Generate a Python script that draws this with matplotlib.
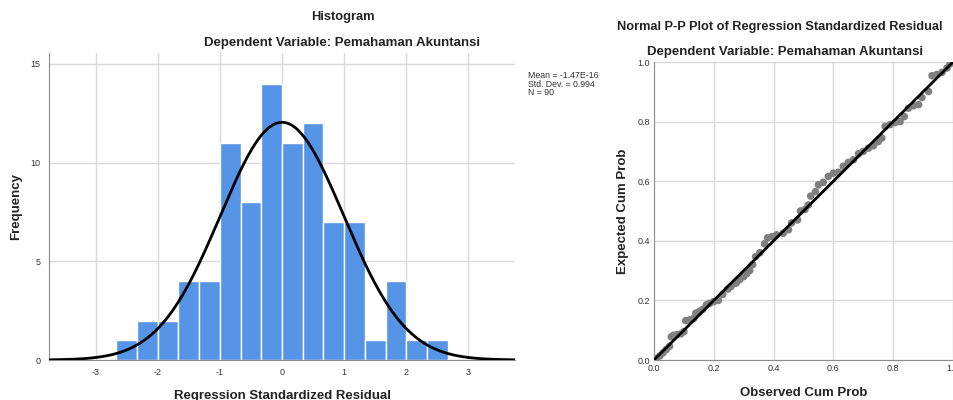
import numpy as np
import matplotlib
matplotlib.use("Agg")
from matplotlib import pyplot as plt

plt.rcParams['font.family'] = ['Liberation Sans', 'DejaVu Sans']
plt.rcParams['axes.unicode_minus'] = False

# histogram of regression standardized residuals
bin_edges = [-8/3, -7/3, -2, -5/3, -4/3, -1, -2/3, -1/3, 0, 1/3, 2/3, 1, 4/3, 5/3, 2, 7/3, 8/3]
counts = [1, 2, 2, 4, 4, 11, 8, 14, 11, 12, 7, 7, 1, 4, 1, 1]
res_mean = -1.47e-16
res_sd = 0.994
n_obs = 90
hist_xticks = [-3, -2, -1, 0, 1, 2, 3]
hist_yticks = [0, 5, 10, 15]

# normal P-P plot points
obs_cum = [0.008, 0.02, 0.03, 0.041, 0.052, 0.058, 0.066, 0.077, 0.09, 0.1,
           0.106, 0.12, 0.133, 0.14, 0.152, 0.163, 0.175, 0.186, 0.2, 0.215,
           0.23, 0.247, 0.258, 0.275, 0.287, 0.3, 0.31, 0.32, 0.33, 0.34,
           0.354, 0.37, 0.38, 0.395, 0.41, 0.432, 0.45, 0.46, 0.48, 0.49,
           0.505, 0.516, 0.524, 0.54, 0.55, 0.566, 0.583, 0.6, 0.617, 0.633,
           0.65, 0.667, 0.684, 0.7, 0.717, 0.734, 0.75, 0.762, 0.773, 0.79,
           0.807, 0.823, 0.837, 0.851, 0.868, 0.885, 0.896, 0.918, 0.93, 0.946,
           0.963, 0.98, 0.99]
exp_cum = [0.005, 0.014, 0.024, 0.035, 0.046, 0.078, 0.083, 0.085, 0.088, 0.095,
           0.132, 0.135, 0.14, 0.157, 0.163, 0.17, 0.185, 0.19, 0.196, 0.2,
           0.22, 0.238, 0.247, 0.258, 0.27, 0.28, 0.29, 0.3, 0.32, 0.347,
           0.36, 0.39, 0.41, 0.414, 0.42, 0.425, 0.437, 0.46, 0.47, 0.5,
           0.505, 0.52, 0.55, 0.565, 0.588, 0.596, 0.616, 0.627, 0.63, 0.65,
           0.663, 0.672, 0.692, 0.7, 0.711, 0.719, 0.733, 0.745, 0.784, 0.79,
           0.797, 0.8, 0.817, 0.845, 0.853, 0.857, 0.881, 0.901, 0.954, 0.958,
           0.965, 0.98, 0.994]
pp_ticks = [0.0, 0.2, 0.4, 0.6, 0.8, 1.0]

bar_color = '#5694e6'
grid_color = '#d9d9d9'
spine_color = '#8c8c8c'
text_color = '#222222'

fig = plt.figure(figsize=(9.54, 4.0), dpi=100)

# ---- histogram ----
ax1 = fig.add_axes([0.0514, 0.1, 0.4885, 0.7675])
widths = np.diff(bin_edges)
ax1.bar(bin_edges[:-1], counts, width=widths, align='edge', color=bar_color,
        edgecolor='white', linewidth=1.0, zorder=2)
xs = np.linspace(-3.75, 3.75, 400)
bw = widths[0]
curve = n_obs * bw / (res_sd * np.sqrt(2 * np.pi)) * np.exp(-0.5 * ((xs - res_mean) / res_sd) ** 2)
ax1.plot(xs, curve, color='black', linewidth=2.0, zorder=3)
ax1.set_xlim(-3.75, 3.75)
ax1.set_ylim(0, 15.55)
ax1.set_xticks(hist_xticks)
ax1.set_yticks(hist_yticks)
ax1.grid(True, color=grid_color, linewidth=1.0, zorder=0)
ax1.set_axisbelow(True)
ax1.tick_params(length=0, labelsize=6.5, colors='#333333', pad=6)
for s in ['top', 'right']:
    ax1.spines[s].set_visible(False)
ax1.spines['left'].set_color(spine_color)
ax1.spines['bottom'].set_color(spine_color)
ax1.set_xlabel('Regression Standardized Residual', fontsize=9.5, fontweight='bold',
               labelpad=9, color=text_color)
ax1.set_ylabel('Frequency', fontsize=9.5, fontweight='bold', labelpad=6, color=text_color)
fig.text(343 / 954, 1 - 17 / 400, 'Histogram', ha='center', va='center',
         fontsize=9.3, fontweight='bold', color=text_color)
fig.text(342 / 954, 1 - 43 / 400, 'Dependent Variable: Pemahaman Akuntansi', ha='center',
         va='center', fontsize=9.5, fontweight='bold', color=text_color)
fig.text(528 / 954, 1 - 71 / 400,
         'Mean = -1.47E-16\nStd. Dev. = 0.994\nN = 90',
         ha='left', va='top', fontsize=6.3, color='#333333', linespacing=0.95)

# ---- P-P plot ----
ax2 = fig.add_axes([654 / 954, 0.1, 299 / 954, 298 / 400])
ax2.plot([0, 1], [0, 1], color='black', linewidth=2.0, zorder=3)
ax2.scatter(obs_cum, exp_cum, s=30, color='#7f7f7f', edgecolors='none', zorder=2)
ax2.set_xlim(0, 1)
ax2.set_ylim(0, 1)
ax2.set_xticks(pp_ticks)
ax2.set_yticks(pp_ticks)
ax2.set_xticklabels(['%.1f' % t for t in pp_ticks])
ax2.set_yticklabels(['%.1f' % t for t in pp_ticks])
ax2.grid(True, color=grid_color, linewidth=1.0, zorder=0)
ax2.set_axisbelow(True)
ax2.tick_params(length=0, labelsize=6.5, colors='#333333', pad=3)
for s in ['top', 'right']:
    ax2.spines[s].set_visible(False)
ax2.spines['left'].set_color(spine_color)
ax2.spines['bottom'].set_color(spine_color)
ax2.set_xlabel('Observed Cum Prob', fontsize=9.5, fontweight='bold', labelpad=10,
               color=text_color)
ax2.set_ylabel('Expected Cum Prob', fontsize=9.5, fontweight='bold', labelpad=6,
               color=text_color)
fig.text(780 / 954, 1 - 27 / 400, 'Normal P-P Plot of Regression Standardized Residual',
         ha='center', va='center', fontsize=9.2, fontweight='bold', color=text_color)
fig.text(785 / 954, 1 - 52 / 400, 'Dependent Variable: Pemahaman Akuntansi',
         ha='center', va='center', fontsize=9.5, fontweight='bold', color=text_color)

fig.savefig('out.png', dpi=100)
